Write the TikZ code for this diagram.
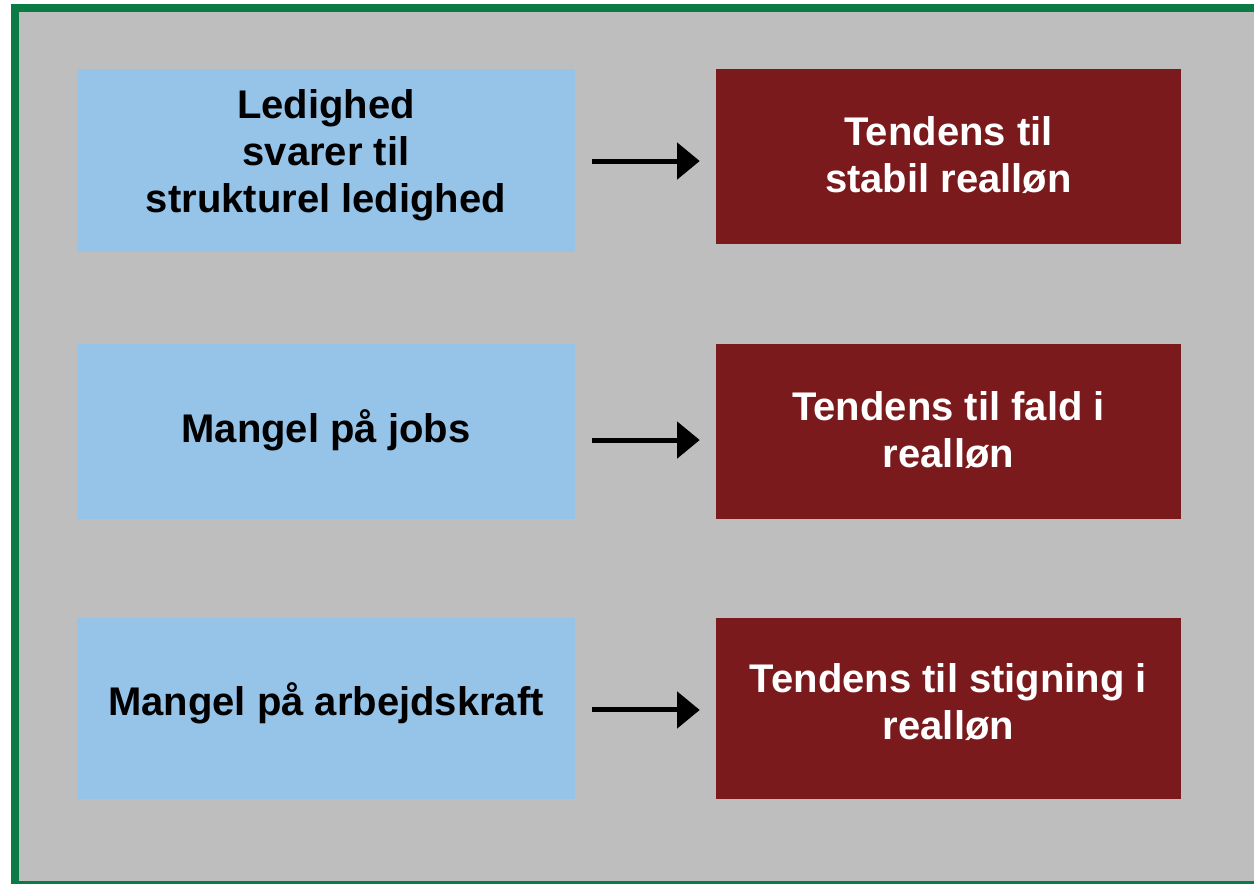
\documentclass[tikz,border=0pt]{standalone}
\usepackage{fontspec}
\setmainfont{Liberation Sans}
\usetikzlibrary{arrows.meta}
\definecolor{bgGray}{RGB}{190,190,190}
\definecolor{frameGreen}{RGB}{12,122,69}
\definecolor{boxBlue}{RGB}{150,195,232}
\definecolor{boxRed}{RGB}{123,26,29}
\tikzset{
  causebox/.style={fill=boxBlue, draw=none, align=center, font=\fontsize{30pt}{35.25pt}\selectfont\bfseries, text=black, inner sep=0pt},
  effectbox/.style={fill=boxRed, draw=none, align=center, font=\fontsize{30pt}{35.25pt}\selectfont\bfseries, text=white, inner sep=0pt},
  link/.style={line width=3.75pt, -{Triangle[length=17pt,width=27pt]}, shorten <=12.75pt, shorten >=12pt}
}
\begin{document}
\begin{tikzpicture}[x=0.75pt,y=-0.75pt]
\useasboundingbox (0,0) rectangle (1254,883);
\fill[white] (0,0) rectangle (1254,883);
\draw[frameGreen, line width=6pt, fill=bgGray] (15,8) rectangle (1262,885);
% boxes
\node[causebox, minimum width=373.5pt, minimum height=137.25pt] (c1) at (326,160.5) {};
\node[causebox] at (326,155) {Ledighed\\svarer til\\strukturel ledighed};
\node[effectbox, minimum width=348.75pt, minimum height=131.25pt] (e1) at (948.5,156.5) {};
\node[effectbox] at (948.5,155.5) {Tendens til\\stabil realløn};
\node[causebox, minimum width=373.5pt, minimum height=131.25pt] (c2) at (326,431.5) {};
\node[causebox] at (326,430) {Mangel på jobs};
\node[effectbox, minimum width=348.75pt, minimum height=131.25pt] (e2) at (948.5,431.5) {};
\node[effectbox] at (948.5,430) {Tendens til fald i\\realløn};
\node[causebox, minimum width=373.5pt, minimum height=135.75pt] (c3) at (326,708.5) {};
\node[causebox] at (326,703) {Mangel på arbejdskraft};
\node[effectbox, minimum width=348.75pt, minimum height=135.75pt] (e3) at (948.5,708.5) {};
\node[effectbox] at (948.5,702.5) {Tendens til stigning i\\realløn};
% arrows
\draw[link] ([yshift=-0.4pt]c1.east) -- ([yshift=-0.4pt]c1.east -| e1.west);
\draw[link] ([yshift=-6.4pt]c2.east) -- ([yshift=-6.4pt]c2.east -| e2.west);
\draw[link] ([yshift=-1.1pt]c3.east) -- ([yshift=-1.1pt]c3.east -| e3.west);
\end{tikzpicture}
\end{document}
